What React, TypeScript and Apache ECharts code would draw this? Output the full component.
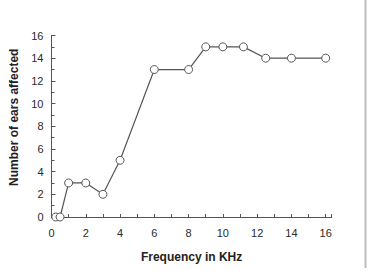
import React, { useEffect, useRef } from "react";
import * as echarts from "echarts";

const frequencies = [0.25, 0.5, 1, 2, 3, 4, 6, 8, 9, 10, 11.2, 12.5, 14, 16];
const earsAffected = [0, 0, 3, 3, 2, 5, 13, 13, 15, 15, 15, 14, 14, 14];
const xTitle = "Frequency in KHz";
const yTitle = "Number of ears affected";

export default function App() {
  const ref = useRef<HTMLDivElement>(null);
  useEffect(() => {
    if (!ref.current) return;
    const chart = echarts.init(ref.current, undefined, { renderer: "svg" });
    const axisColor = "#555";
    const font = "Liberation Sans, Arial, sans-serif";
    const labelStyle = { color: "#2a2a2a", fontSize: 11, fontFamily: font };
    chart.setOption({
      animation: false,
      backgroundColor: "#fff",
      grid: { left: 51.5, right: 38.3, top: 35.5, bottom: 54, containLabel: false },
      xAxis: {
        type: "value",
        min: 0,
        max: 16.35,
        interval: 2,
        name: xTitle,
        nameLocation: "middle",
        nameGap: 34,
        nameTextStyle: { fontWeight: "bold", fontSize: 12, color: "#222", fontFamily: font },
        axisLine: { show: true, lineStyle: { color: axisColor, width: 1 } },
        axisTick: { show: true, inside: true, length: 3, lineStyle: { color: axisColor } },
        minorTick: { show: true, splitNumber: 2, length: 3, lineStyle: { color: axisColor } },
        axisLabel: {
          ...labelStyle,
          margin: 10,
          showMaxLabel: false,
          formatter: (v: number) => (v % 2 === 0 ? String(v) : ""),
        },
        splitLine: { show: false },
      },
      yAxis: {
        type: "value",
        min: 0,
        max: 16,
        interval: 2,
        name: yTitle,
        nameLocation: "middle",
        nameGap: 29,
        nameTextStyle: {
          fontWeight: "bold",
          fontSize: 12,
          color: "#222",
          fontFamily: font,
          padding: [0, 0, 0, 18],
        },
        axisLine: { show: true, lineStyle: { color: axisColor, width: 1 } },
        axisTick: { show: true, inside: true, length: 4, lineStyle: { color: axisColor } },
        minorTick: { show: true, splitNumber: 2, length: 3, lineStyle: { color: axisColor } },
        axisLabel: { ...labelStyle, margin: 8 },
        splitLine: { show: false },
      },
      graphic: [
        {
          type: "line",
          shape: { x1: 365.5, y1: 0, x2: 365.5, y2: 268 },
          style: { stroke: "#bdbdbd", lineWidth: 2 },
        },
      ],
      series: [
        {
          type: "line",
          data: frequencies.map((f, i) => [f, earsAffected[i]]),
          symbol: "circle",
          symbolSize: 8,
          showAllSymbol: true,
          lineStyle: { color: "#555", width: 1.2 },
          itemStyle: { color: "#fff", borderColor: "#555", borderWidth: 1 },
        },
      ],
    });
    return () => chart.dispose();
  }, []);
  return (
    <div
      ref={ref}
      style={{ position: "fixed", left: 0, top: 0, width: 370, height: 271, background: "#fff" }}
    />
  );
}
